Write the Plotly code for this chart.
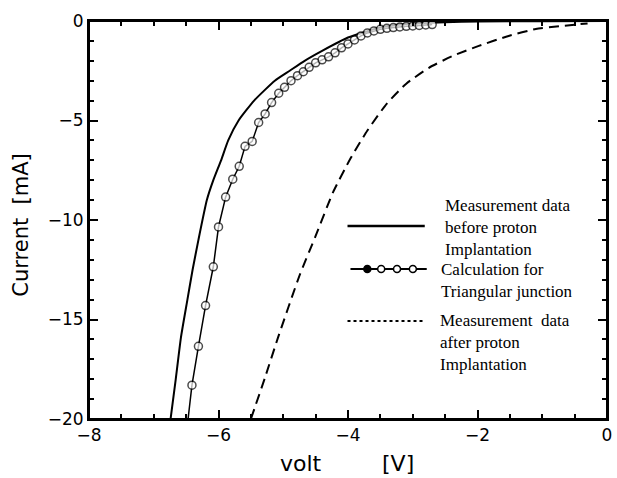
import plotly.graph_objects as go

# Measured I-V curve before proton implantation (V, mA)
before_v = [-6.74, -6.66, -6.58, -6.48, -6.40, -6.31, -6.18, -6.08, -5.96, -5.85,
            -5.69, -5.45, -5.13, -4.90, -4.67, -4.40, -4.00, -3.50, -3.10,
            -2.50, -2.00, -1.00, 0.00]
before_i = [-20.0, -18.0, -15.9, -14.0, -12.5, -11.0, -9.0, -8.0, -7.0, -6.0,
            -5.0, -4.0, -3.0, -2.5, -2.0, -1.5, -0.83, -0.33, -0.15,
            -0.06, -0.03, -0.01, 0.0]

# Calculated curve for a triangular junction (line end + computed points)
calc_v = [-6.47, -6.41, -6.31, -6.20, -6.08, -6.00, -5.89, -5.78, -5.68, -5.59,
          -5.48, -5.38, -5.28, -5.18, -5.07, -4.98, -4.88, -4.78, -4.69, -4.60,
          -4.50, -4.40, -4.30, -4.20, -4.10, -4.00, -3.90, -3.80, -3.70, -3.60,
          -3.50, -3.40, -3.30, -3.20, -3.10, -3.00, -2.90, -2.80, -2.70]
calc_i = [-20.0, -18.3, -16.35, -14.3, -12.35, -10.35, -8.85, -7.95, -7.3, -6.3,
          -6.05, -5.1, -4.67, -4.1, -3.63, -3.33, -3.0, -2.75, -2.55, -2.33,
          -2.1, -1.95, -1.8, -1.6, -1.35, -1.15, -0.95, -0.75, -0.6, -0.5,
          -0.42, -0.37, -0.33, -0.3, -0.27, -0.25, -0.22, -0.2, -0.18]
calc_marker_size = [0] + [8] * (len(calc_v) - 1)

# Measured I-V curve after proton implantation
after_v = [-5.50, -5.28, -5.08, -4.75, -4.50, -4.23, -3.96, -3.70, -3.40, -3.10,
           -2.75, -2.38, -1.98, -1.52, -1.10, -0.70, -0.30]
after_i = [-20.0, -17.9, -15.9, -12.8, -10.8, -8.6, -6.9, -5.5, -4.15, -3.15,
           -2.35, -1.75, -1.25, -0.75, -0.40, -0.25, -0.12]

x_ticks = [-8, -6, -4, -2, 0]
y_ticks = [-20, -15, -10, -5, 0]

legend_lines = [
    "Measurement data<br>before proton<br>Implantation",
    "Calculation for<br>Triangular junction",
    "Measurement&nbsp; data<br>after proton<br>Implantation",
]

W, H = 617, 478
L, R, T, B = 89, 5, 21, 59
PW, PH = W - L - R, H - T - B


def px(x):
    return (x - L) / PW


def py(y):
    return (H - B - y) / PH


fig = go.Figure()

fig.add_trace(go.Scatter(x=before_v, y=before_i, mode="lines",
                         line=dict(color="black", width=2, shape="spline",
                                   smoothing=0.5),
                         showlegend=False))
fig.add_trace(go.Scatter(x=calc_v, y=calc_i, mode="lines+markers",
                         line=dict(color="black", width=1.5),
                         marker=dict(symbol="circle", size=calc_marker_size,
                                     color="white",
                                     line=dict(color="black", width=1.5)),
                         showlegend=False))
fig.add_trace(go.Scatter(x=after_v, y=after_i, mode="lines",
                         line=dict(color="black", width=2, dash="10px,6px",
                                   shape="spline", smoothing=0.5),
                         showlegend=False))

axis_common = dict(
    showline=True, linecolor="black", linewidth=2, mirror="allticks",
    ticks="inside", ticklen=9, tickwidth=2, tickcolor="black",
    showgrid=False, zeroline=False,
    tickfont=dict(family="DejaVu Sans", size=17, color="black"),
)

fig.update_xaxes(range=[-8, 0], tickvals=x_ticks,
                 ticktext=[str(v).replace("-", "\u2212") for v in x_ticks],
                 minor=dict(dtick=0.5, ticks="inside", ticklen=5,
                            tickwidth=1.5, tickcolor="black"),
                 **axis_common)
fig.update_yaxes(range=[-20, 0], tickvals=y_ticks,
                 ticktext=[str(v).replace("-", "\u2212") for v in y_ticks],
                 minor=dict(dtick=1, ticks="inside", ticklen=5,
                            tickwidth=1.5, tickcolor="black"),
                 **axis_common)

shapes = []
# plot frame
shapes.append(dict(type="rect", xref="paper", yref="paper", x0=0, x1=1, y0=0, y1=1,
                   line=dict(color="black", width=2), layer="above"))
# legend samples
shapes.append(dict(type="line", xref="paper", yref="paper",
                   x0=px(350), x1=px(428), y0=py(226), y1=py(226),
                   line=dict(color="black", width=2.5)))
shapes.append(dict(type="line", xref="paper", yref="paper",
                   x0=px(353), x1=px(430), y0=py(269), y1=py(269),
                   line=dict(color="black", width=2)))
for i, cx in enumerate([370, 384, 400, 416]):
    shapes.append(dict(type="circle", xref="paper", yref="paper",
                       xsizemode="pixel", ysizemode="pixel",
                       xanchor=px(cx), yanchor=py(269),
                       x0=-3.5, x1=3.5, y0=-3.5, y1=3.5,
                       fillcolor="black" if i == 0 else "white",
                       line=dict(color="black", width=1.5)))
shapes.append(dict(type="line", xref="paper", yref="paper",
                   x0=px(350), x1=px(427), y0=py(321), y1=py(321),
                   line=dict(color="black", width=2, dash="3px,3px")))

serif = dict(family="Liberation Serif", size=17, color="black")
annotations = [
    dict(text=legend_lines[0], xref="paper", yref="paper", x=px(446), y=py(227),
         xanchor="left", yanchor="middle", align="left", showarrow=False, font=serif),
    dict(text=legend_lines[1], xref="paper", yref="paper", x=px(442), y=py(280),
         xanchor="left", yanchor="middle", align="left", showarrow=False, font=serif),
    dict(text=legend_lines[2], xref="paper", yref="paper", x=px(441), y=py(342),
         xanchor="left", yanchor="middle", align="left", showarrow=False, font=serif),
    # axis titles
    dict(text="Current&nbsp; [mA]", xref="paper", yref="paper", x=px(20), y=py(225),
         xanchor="center", yanchor="middle", textangle=-90, showarrow=False,
         font=dict(family="DejaVu Sans", size=21, color="black")),
    dict(text="volt", xref="paper", yref="paper", x=px(303), y=py(463),
         xanchor="center", yanchor="middle", showarrow=False,
         font=dict(family="DejaVu Sans", size=22, color="black")),
    dict(text="[V]", xref="paper", yref="paper", x=px(401), y=py(463),
         xanchor="center", yanchor="middle", showarrow=False,
         font=dict(family="DejaVu Sans", size=22, color="black")),
]

fig.update_layout(
    width=W, height=H,
    margin=dict(l=L, r=R, t=T, b=B),
    paper_bgcolor="white", plot_bgcolor="white",
    shapes=shapes, annotations=annotations,
    showlegend=False,
)

fig.write_html("out.html")
